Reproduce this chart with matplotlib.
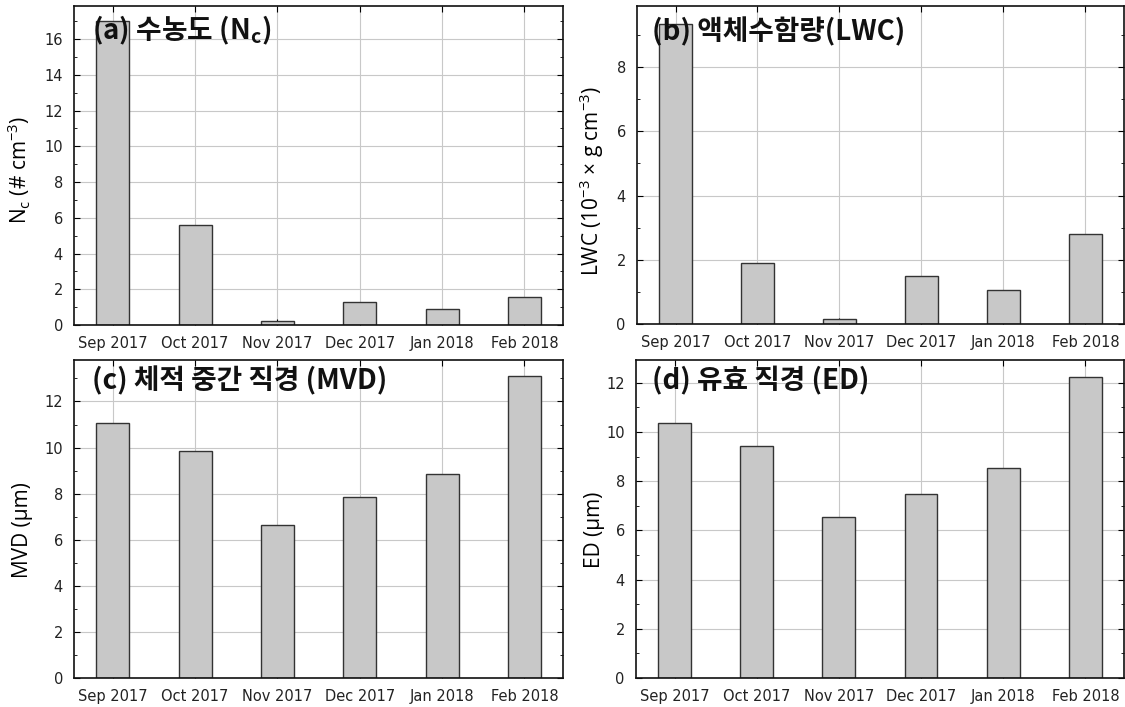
import numpy as np
import matplotlib
matplotlib.use('Agg')
import matplotlib.pyplot as plt
from matplotlib.ticker import MultipleLocator

plt.rcParams['font.family'] = ['DejaVu Sans']

months = ['Sep 2017', 'Oct 2017', 'Nov 2017', 'Dec 2017', 'Jan 2018', 'Feb 2018']

# Monthly means.
nc = [17.0, 5.6, 0.25, 1.3, 0.9, 1.55]
lwc = [9.35, 1.9, 0.15, 1.5, 1.05, 2.8]
mvd = [11.05, 9.85, 6.65, 7.85, 8.85, 13.1]
ed = [10.35, 9.45, 6.55, 7.5, 8.55, 12.25]

titles = ['(a) 수농도 (N$_\\mathregular{c}$)', '(b) 액체수함량(LWC)',
          '(c) 체적 중간 직경 (MVD)', '(d) 유효 직경 (ED)']
ylabels = ['N$_\\mathregular{c}$ (# cm$^\\mathregular{-3}$)',
           'LWC (10$^\\mathregular{-3}$ × g cm$^\\mathregular{-3}$)',
           'MVD (μm)', 'ED (μm)']

fig = plt.figure(figsize=(11.25, 7.07), dpi=100)

# left, bottom, width, height in figure fractions
boxes = [(0.0658, 0.5403, 0.4347, 0.4512),
         (0.5662, 0.5417, 0.4329, 0.4498),
         (0.0658, 0.0410, 0.4347, 0.4498),
         (0.5653, 0.0410, 0.4338, 0.4498)]
ylims = [17.85, 9.9, 13.8, 12.93]
title_pos = [(0.037, 0.925), (0.031, 0.92), (0.037, 0.934), (0.033, 0.934)]
ylabel_xy = [(-0.084, 0.485), (-0.064, 0.45), (-0.084, 0.465), (-0.064, 0.465)]

x = np.arange(len(months))
for i, vals in enumerate([nc, lwc, mvd, ed]):
    ax = fig.add_axes(boxes[i])
    ax.set_axisbelow(True)
    ax.grid(True, color='#c8c8c8', linewidth=0.8)
    ax.bar(x, vals, width=0.4, color='#c8c8c8', edgecolor='#333333', linewidth=1.0)
    ax.set_xlim(-0.47, 5.47)
    ax.set_ylim(0, ylims[i])
    ax.set_xticks(x)
    ax.set_xticklabels(months)
    ax.yaxis.set_major_locator(MultipleLocator(2))
    ax.yaxis.set_minor_locator(MultipleLocator(1))
    ax.tick_params(which='both', direction='in', top=True, right=True,
                   labelsize=10.5, labelcolor='#222222', pad=8)
    ax.tick_params(which='major', length=4)
    ax.tick_params(which='minor', length=2)
    for s in ax.spines.values():
        s.set_color('#111111')
        s.set_linewidth(1.2)
    ax.text(title_pos[i][0], title_pos[i][1], titles[i], transform=ax.transAxes,
            fontsize=20, fontweight='bold', family=['Noto Sans CJK KR', 'DejaVu Sans'],
            ha='left', va='center', color='#111111')
    ax.set_ylabel(ylabels[i], fontsize=15, family=['Open Sans', 'DejaVu Sans'])
    ax.yaxis.set_label_coords(*ylabel_xy[i])

fig.savefig('out.png', dpi=100)
